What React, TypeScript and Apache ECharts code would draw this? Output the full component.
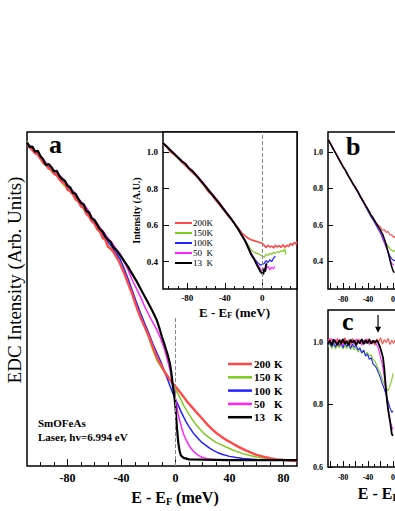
import React, { useEffect, useRef } from "react";
import * as echarts from "echarts";

const SERIF = '"Liberation Serif", "Times New Roman", serif';

// ---- labels / ticks ----
const mainTemps = ["200", "150", "100", "50", "13"];
const insetTemps = ["200", "150", "100", "50", "13"];
const colors = ["#ff4848", "#7fcc20", "#2222ff", "#ff22ff", "#000000"];

const mainXTicks = [-100, -90, -80, -70, -60, -50, -40, -30, -20, -10, 0, 10, 20, 30, 40, 50, 60, 70, 80];
const mainXLabels = [-80, -40, 0, 40, 80];
const insetXTicks = [-100, -90, -80, -70, -60, -50, -40, -30, -20, -10, 0, 10, 20, 30];
const insetXLabels = [-80, -40, 0];
const insetYLabels = [0.4, 0.6, 0.8, 1.0];
const bcXTicks = [-100, -90, -80, -70, -60, -50, -40, -30, -20, -10, 0, 10, 20, 30, 40, 50, 60, 70, 80, 90, 100, 110, 120, 130];
const bcXMajor = [-100, -80, -60, -40, -20, 0, 20, 40, 60, 80, 100, 120];
const bcXLabels = [-80, -40, 0, 40, 80, 120];
const bYLabels = [0.4, 0.6, 0.8, 1.0];
const cYLabels = [0.6, 0.8, 1.0];
const arrowE = -24;
const arrowTop = 1.087;
const arrowBottom = 1.03;

// ---- panel a, main EDCs ----
const mainBlack = [[-110,1.065],[-108,1.05],[-106,1.052],[-104,1.035],[-102,1.038],[-100,1.02],[-98,1.01],[-96,0.99],[-94,0.995],[-92,0.985],[-90,0.97],[-88,0.972],[-86,0.955],[-84,0.945],[-82,0.94],[-80,0.922],[-78,0.918],[-76,0.9],[-74,0.896],[-72,0.88],[-70,0.866],[-68,0.862],[-66,0.84],[-64,0.836],[-62,0.815],[-60,0.81],[-58,0.795],[-56,0.78],[-54,0.772],[-52,0.756],[-50,0.745],[-48,0.738],[-46,0.72],[-44,0.712],[-42,0.7],[-40,0.688],[-38,0.675],[-35,0.655],[-32,0.632],[-29,0.61],[-26,0.585],[-23,0.56],[-20,0.535],[-17,0.51],[-14,0.482],[-12,0.455],[-10,0.425],[-8,0.398],[-6,0.37],[-4,0.335],[-3,0.305],[-2,0.265],[-1,0.235],[0,0.195],[1,0.13],[2,0.08],[3,0.05],[4,0.035],[6,0.027],[10,0.022],[20,0.021],[40,0.02],[60,0.02],[90,0.02]];
const mainRed = [[-110,1.058],[-108,1.05],[-106,1.04],[-104,1.03],[-102,1.025],[-100,1.012],[-98,0.998],[-96,0.992],[-94,0.98],[-92,0.976],[-90,0.962],[-88,0.958],[-86,0.944],[-84,0.935],[-82,0.93],[-80,0.91],[-78,0.905],[-76,0.895],[-74,0.878],[-72,0.872],[-70,0.855],[-68,0.85],[-66,0.83],[-64,0.822],[-62,0.806],[-60,0.798],[-58,0.78],[-56,0.772],[-54,0.752],[-52,0.745],[-50,0.722],[-48,0.716],[-46,0.705],[-44,0.69],[-42,0.676],[-40,0.655],[-38,0.635],[-35,0.6],[-32,0.565],[-29,0.525],[-26,0.49],[-23,0.46],[-20,0.43],[-17,0.395],[-14,0.36],[-11,0.335],[-8,0.31],[-5,0.29],[-2,0.272],[0,0.262],[3,0.245],[6,0.228],[9,0.21],[12,0.195],[15,0.18],[18,0.165],[21,0.15],[24,0.135],[27,0.122],[30,0.11],[34,0.097],[38,0.085],[42,0.075],[46,0.065],[50,0.056],[55,0.046],[60,0.037],[65,0.031],[70,0.026],[75,0.022],[80,0.02],[85,0.018],[90,0.017]];
const mainGreen = [[-110,1.07],[-107,1.045],[-104,1.032],[-101,1.022],[-98,1.004],[-95,0.988],[-92,0.97],[-89,0.962],[-86,0.948],[-83,0.926],[-80,0.916],[-77,0.897],[-74,0.886],[-71,0.866],[-68,0.845],[-65,0.83],[-62,0.81],[-59,0.79],[-56,0.77],[-53,0.752],[-50,0.728],[-47,0.715],[-44,0.695],[-41,0.672],[-38,0.64],[-35,0.605],[-32,0.57],[-29,0.532],[-26,0.495],[-23,0.46],[-20,0.425],[-17,0.385],[-14,0.35],[-11,0.328],[-8,0.308],[-5,0.288],[-2,0.268],[0,0.252],[3,0.228],[6,0.2],[9,0.178],[12,0.156],[15,0.138],[18,0.122],[21,0.108],[24,0.097],[27,0.087],[30,0.078],[34,0.07],[38,0.062],[42,0.054],[46,0.047],[50,0.041],[55,0.035],[60,0.03],[65,0.026],[70,0.023],[80,0.021],[90,0.02]];
const mainBlue = [[-110,1.062],[-107,1.052],[-104,1.03],[-101,1.025],[-98,1.002],[-95,0.992],[-92,0.978],[-89,0.96],[-86,0.952],[-83,0.935],[-80,0.92],[-77,0.908],[-74,0.89],[-71,0.868],[-68,0.855],[-65,0.834],[-62,0.812],[-59,0.795],[-56,0.775],[-53,0.758],[-50,0.738],[-47,0.722],[-44,0.7],[-41,0.682],[-38,0.65],[-35,0.615],[-32,0.578],[-29,0.54],[-26,0.505],[-23,0.472],[-20,0.44],[-17,0.405],[-14,0.375],[-11,0.345],[-8,0.31],[-5,0.275],[-2,0.24],[0,0.22],[2,0.2],[4,0.18],[6,0.162],[8,0.145],[10,0.13],[13,0.11],[16,0.094],[19,0.08],[22,0.07],[25,0.06],[28,0.052],[31,0.045],[35,0.038],[40,0.032],[45,0.028],[50,0.025],[60,0.022],[75,0.021],[90,0.02]];
const mainMagenta = [[-110,1.064],[-107,1.05],[-104,1.038],[-101,1.026],[-98,1.01],[-95,0.994],[-92,0.984],[-89,0.97],[-86,0.958],[-83,0.944],[-80,0.928],[-77,0.91],[-74,0.898],[-71,0.876],[-68,0.862],[-65,0.845],[-62,0.82],[-59,0.806],[-56,0.786],[-53,0.77],[-50,0.75],[-47,0.735],[-44,0.715],[-41,0.7],[-38,0.672],[-35,0.645],[-32,0.612],[-29,0.585],[-26,0.558],[-23,0.527],[-20,0.5],[-17,0.475],[-14,0.45],[-11,0.42],[-8,0.382],[-6,0.35],[-4,0.315],[-2,0.27],[0,0.222],[2,0.17],[4,0.135],[6,0.105],[8,0.085],[10,0.068],[13,0.05],[16,0.038],[20,0.028],[25,0.023],[30,0.021],[50,0.02],[90,0.02]];

// ---- panel a, inset ----
const insetBlack = [[-106,1.05],[-102,1.03],[-98,1.01],[-94,0.99],[-90,0.97],[-86,0.95],[-82,0.935],[-78,0.91],[-74,0.893],[-70,0.87],[-66,0.845],[-62,0.82],[-58,0.795],[-54,0.77],[-50,0.745],[-46,0.72],[-42,0.692],[-38,0.665],[-34,0.64],[-30,0.61],[-26,0.58],[-22,0.545],[-18,0.51],[-15,0.475],[-12,0.44],[-9,0.415],[-6,0.385],[-4,0.365],[-2,0.345],[0,0.335],[1,0.33],[2,0.36],[3,0.345],[4,0.385],[5,0.39]];
const insetRed = [[-106,1.045],[-102,1.028],[-98,1.0],[-94,0.985],[-90,0.968],[-86,0.945],[-82,0.925],[-78,0.905],[-74,0.885],[-70,0.865],[-66,0.84],[-62,0.815],[-58,0.785],[-54,0.765],[-50,0.738],[-46,0.712],[-42,0.688],[-38,0.66],[-34,0.635],[-30,0.61],[-26,0.585],[-22,0.558],[-18,0.54],[-15,0.528],[-12,0.52],[-9,0.515],[-6,0.51],[-3,0.505],[0,0.5],[2,0.49],[4,0.478],[6,0.49],[8,0.48],[10,0.485],[12,0.475],[14,0.49],[16,0.48],[18,0.488],[20,0.478],[22,0.492],[24,0.478],[26,0.49],[28,0.482],[30,0.5],[32,0.488],[34,0.505],[36,0.495],[37,0.51]];
const insetGreen = [[-106,1.048],[-102,1.025],[-98,1.005],[-94,0.988],[-90,0.965],[-86,0.948],[-82,0.928],[-78,0.908],[-74,0.888],[-70,0.866],[-66,0.842],[-62,0.818],[-58,0.79],[-54,0.768],[-50,0.742],[-46,0.716],[-42,0.69],[-38,0.662],[-34,0.636],[-30,0.606],[-26,0.575],[-22,0.545],[-18,0.515],[-15,0.49],[-12,0.465],[-9,0.452],[-6,0.445],[-3,0.44],[0,0.43],[2,0.425],[4,0.44],[6,0.435],[8,0.445],[10,0.44],[12,0.452],[14,0.445],[16,0.455],[18,0.45],[20,0.46],[22,0.455],[24,0.47],[25,0.44]];
const insetBlue = [[-106,1.046],[-102,1.032],[-98,1.008],[-94,0.992],[-90,0.968],[-86,0.952],[-82,0.93],[-78,0.912],[-74,0.89],[-70,0.872],[-66,0.846],[-62,0.822],[-58,0.792],[-54,0.772],[-50,0.744],[-46,0.722],[-42,0.694],[-38,0.668],[-34,0.638],[-30,0.612],[-26,0.578],[-22,0.548],[-18,0.51],[-15,0.475],[-12,0.445],[-9,0.42],[-6,0.4],[-4,0.39],[-2,0.38],[0,0.385],[2,0.39],[4,0.405],[6,0.395],[8,0.41],[10,0.4],[12,0.42],[14,0.43]];
const insetMagenta = [[-106,1.052],[-102,1.034],[-98,1.012],[-94,0.994],[-90,0.972],[-86,0.954],[-82,0.938],[-78,0.914],[-74,0.896],[-70,0.874],[-66,0.85],[-62,0.826],[-58,0.798],[-54,0.775],[-50,0.75],[-46,0.725],[-42,0.698],[-38,0.67],[-34,0.642],[-30,0.614],[-26,0.582],[-22,0.55],[-18,0.515],[-15,0.48],[-12,0.45],[-9,0.42],[-6,0.39],[-4,0.375],[-2,0.36],[0,0.35],[2,0.365],[4,0.36],[6,0.375],[8,0.355],[10,0.37],[12,0.36],[13,0.375]];

// ---- panel b ----
const bBlack = [[-104,1.07],[-100,1.045],[-96,1.02],[-92,0.995],[-88,0.97],[-84,0.945],[-80,0.92],[-76,0.9],[-72,0.872],[-68,0.85],[-64,0.825],[-60,0.805],[-56,0.782],[-52,0.755],[-48,0.732],[-44,0.708],[-40,0.685],[-36,0.66],[-32,0.64],[-28,0.615],[-24,0.595],[-20,0.572],[-16,0.545],[-13,0.515],[-10,0.48],[-7,0.44],[-4,0.395],[-2,0.37],[0,0.35],[2,0.34]];
const bRed = [[-104,1.075],[-100,1.05],[-96,1.018],[-92,0.998],[-88,0.968],[-84,0.948],[-80,0.918],[-76,0.898],[-72,0.875],[-68,0.848],[-64,0.828],[-60,0.8],[-56,0.785],[-52,0.752],[-48,0.735],[-44,0.705],[-40,0.688],[-36,0.658],[-32,0.642],[-28,0.618],[-24,0.6],[-20,0.59],[-17,0.572],[-14,0.575],[-11,0.56],[-8,0.565],[-5,0.548],[-2,0.545],[1,0.532],[4,0.54]];
const bGreen = [[-104,1.068],[-100,1.042],[-96,1.022],[-92,0.992],[-88,0.972],[-84,0.942],[-80,0.922],[-76,0.896],[-72,0.874],[-68,0.846],[-64,0.826],[-60,0.802],[-56,0.78],[-52,0.756],[-48,0.73],[-44,0.704],[-40,0.68],[-36,0.652],[-32,0.632],[-28,0.612],[-24,0.588],[-20,0.565],[-17,0.54],[-14,0.52],[-11,0.5],[-8,0.485],[-5,0.47],[-2,0.462],[1,0.455],[4,0.465]];
const bBlue = [[-104,1.066],[-100,1.046],[-96,1.016],[-92,0.996],[-88,0.966],[-84,0.946],[-80,0.918],[-76,0.898],[-72,0.87],[-68,0.848],[-64,0.822],[-60,0.8],[-56,0.776],[-52,0.752],[-48,0.728],[-44,0.7],[-40,0.676],[-36,0.65],[-32,0.628],[-28,0.605],[-24,0.58],[-20,0.555],[-17,0.53],[-14,0.505],[-11,0.48],[-8,0.455],[-5,0.43],[-2,0.415],[1,0.405],[4,0.41]];
const bMagenta = [[-104,1.072],[-100,1.048],[-96,1.024],[-92,0.998],[-88,0.974],[-84,0.95],[-80,0.924],[-76,0.902],[-72,0.876],[-68,0.852],[-64,0.828],[-60,0.806],[-56,0.784],[-52,0.758],[-48,0.734],[-44,0.71],[-40,0.684],[-36,0.658],[-32,0.636],[-28,0.612],[-24,0.59],[-20,0.565],[-17,0.54],[-14,0.51],[-11,0.48],[-8,0.45],[-5,0.415],[-2,0.39],[1,0.38]];

// ---- panel c ----
const cRed = [[-104,1.0],[-101,1.012],[-98,0.992],[-95,1.006],[-92,0.998],[-89,1.012],[-86,0.99],[-83,1.008],[-80,0.996],[-77,1.014],[-74,0.994],[-71,1.006],[-68,0.99],[-65,1.012],[-62,1.0],[-59,0.99],[-56,1.01],[-53,0.996],[-50,1.008],[-47,0.992],[-44,1.01],[-41,0.998],[-38,1.012],[-35,0.994],[-32,1.004],[-29,0.99],[-26,1.01],[-23,1.0],[-20,1.014],[-17,0.994],[-14,1.008],[-11,0.998],[-8,1.012],[-5,0.992],[-2,1.006],[1,0.996],[4,1.01],[7,1.0]];
const cBlack = [[-104,0.995],[-101,1.005],[-98,0.99],[-95,1.008],[-92,1.0],[-89,0.99],[-86,1.006],[-83,0.996],[-80,1.01],[-77,0.994],[-74,1.004],[-71,0.99],[-68,1.008],[-65,0.998],[-62,1.006],[-59,0.99],[-56,1.004],[-53,0.996],[-50,1.01],[-47,0.994],[-44,1.006],[-41,0.996],[-38,1.008],[-35,0.995],[-32,1.005],[-29,0.998],[-26,1.006],[-24,1.0],[-21,0.985],[-18,0.965],[-16,0.95],[-14,0.915],[-12,0.865],[-10,0.82],[-8,0.785],[-6,0.76],[-4,0.735],[-2,0.705],[0,0.7]];
const cMagenta = [[-104,1.01],[-101,0.995],[-98,1.012],[-95,0.998],[-92,1.008],[-89,0.99],[-86,1.01],[-83,1.0],[-80,0.99],[-77,1.012],[-74,0.996],[-71,1.008],[-68,0.994],[-65,1.006],[-62,0.992],[-59,1.01],[-56,0.998],[-53,1.008],[-50,0.99],[-47,1.006],[-44,0.995],[-41,1.01],[-38,0.992],[-35,1.004],[-32,0.996],[-29,1.006],[-26,0.99],[-24,0.985],[-21,0.96],[-18,0.935],[-16,0.915],[-13,0.87],[-10,0.82],[-8,0.785],[-5,0.75],[-2,0.73],[0,0.72]];
const cBlue = [[-104,0.99],[-101,1.0],[-98,0.985],[-95,0.998],[-92,0.984],[-89,1.002],[-86,0.988],[-83,0.996],[-80,0.982],[-77,1.0],[-74,0.986],[-71,0.996],[-68,0.98],[-65,0.994],[-62,0.984],[-59,0.99],[-56,0.975],[-53,0.982],[-50,0.965],[-47,0.975],[-44,0.955],[-41,0.962],[-38,0.945],[-35,0.95],[-32,0.93],[-29,0.925],[-26,0.915],[-23,0.9],[-20,0.885],[-17,0.865],[-14,0.85],[-11,0.83],[-8,0.81],[-5,0.79],[-2,0.775],[0,0.78]];
const cGreen = [[-104,0.985],[-101,0.995],[-98,0.98],[-95,0.992],[-92,0.978],[-89,0.99],[-86,0.982],[-83,0.994],[-80,0.978],[-77,0.99],[-74,0.98],[-71,0.992],[-68,0.976],[-65,0.988],[-62,0.975],[-59,0.985],[-56,0.968],[-53,0.978],[-50,0.965],[-47,0.972],[-44,0.96],[-41,0.968],[-38,0.955],[-35,0.96],[-32,0.945],[-29,0.94],[-26,0.925],[-23,0.91],[-20,0.9],[-17,0.88],[-14,0.865],[-11,0.85],[-8,0.845],[-5,0.86],[-2,0.88],[0,0.9]];

const tickStyle = { show: true, inside: true, length: 4, lineStyle: { color: "#000", width: 1 } };
const noLine = { show: false, onZero: false };
const boldLabel = (size: number, margin: number) => ({
  show: true, fontFamily: SERIF, fontWeight: "bold", fontSize: size, color: "#000", margin,
});
const subName = (size: number, sub: number, shift: number, padLeft: number) => ({
  nameTextStyle: {
    padding: [0, 0, 0, padLeft],
    rich: {
      t: { fontFamily: SERIF, fontWeight: "bold", fontSize: size, color: "#000" },
      s: { fontFamily: SERIF, fontWeight: "bold", fontSize: sub, color: "#000", padding: [shift, 0, 0, 0] },
    },
  },
});
// extra tick-only axis (longer ticks at major values)
const majorAxis = (gridIndex: number, min: number, max: number, values: number[], length: number) => ({
  gridIndex, type: "value", min, max, position: "bottom",
  axisLine: noLine, splitLine: { show: false }, axisLabel: { show: false },
  axisTick: { ...tickStyle, length, customValues: values },
});

function mk(name: string, data: number[][], color: string, width: number, idx: number, extra: any = {}) {
  return {
    type: "line", name, data, xAxisIndex: idx, yAxisIndex: idx,
    showSymbol: false, symbol: "none", silent: true,
    lineStyle: { color, width }, itemStyle: { color }, ...extra,
  };
}

export default function App() {
  const ref = useRef<HTMLDivElement>(null);
  useEffect(() => {
    if (!ref.current) return;
    const chart = echarts.init(ref.current, null, { renderer: "svg" });
    const frame = { show: true, borderColor: "#000", borderWidth: 1.5 };
    const dash = { color: "#888", type: "dashed", width: 1 };

    const series: any[] = [
      mk("150 K", mainGreen, colors[1], 1.5, 0),
      mk("100 K", mainBlue, colors[2], 1.5, 0),
      mk("50 K", mainMagenta, colors[3], 1.5, 0),
      mk("200 K", mainRed, colors[0], 2.4, 0),
      mk("13 K", mainBlack, colors[4], 2.2, 0, {
        markLine: { silent: true, symbol: "none", label: { show: false }, lineStyle: dash,
          data: [[{ coord: [0, 0] }, { coord: [0, 0.49] }]] },
      }),
      mk("150K", insetGreen, colors[1], 1.2, 1),
      mk("100K", insetBlue, colors[2], 1.2, 1),
      mk("50K", insetMagenta, colors[3], 1.2, 1),
      mk("200K", insetRed, colors[0], 1.6, 1),
      mk("13K", insetBlack, colors[4], 2, 1, {
        markLine: { silent: true, symbol: "none", label: { show: false }, lineStyle: dash, data: [{ xAxis: 0 }] },
      }),
      mk("b150", bGreen, colors[1], 1.1, 2),
      mk("b100", bBlue, colors[2], 1.1, 2),
      mk("b50", bMagenta, colors[3], 1.1, 2),
      mk("b200", bRed, colors[0], 1.1, 2),
      mk("b13", bBlack, colors[4], 1.5, 2),
      mk("c150", cGreen, colors[1], 1.1, 3),
      mk("c100", cBlue, colors[2], 1.1, 3),
      mk("c50", cMagenta, colors[3], 1.1, 3),
      mk("c200", cRed, colors[0], 1.1, 3),
      mk("c13", cBlack, colors[4], 1.8, 3),
    ];

    chart.setOption({
      animation: false,
      textStyle: { fontFamily: SERIF },
      grid: [
        { left: 27, top: 132, width: 270, height: 335, ...frame },
        { left: 163, top: 132, width: 134, height: 157, ...frame, backgroundColor: "#fff" },
        { left: 328, top: 132, width: 147, height: 157, ...frame },
        { left: 328, top: 310, width: 147, height: 157, ...frame },
      ],
      xAxis: [
        {
          gridIndex: 0, type: "value", min: -110, max: 90, position: "bottom",
          axisLine: noLine, splitLine: { show: false },
          axisTick: { ...tickStyle, length: 4, customValues: mainXTicks },
          axisLabel: { ...boldLabel(12, 6), customValues: mainXLabels },
          name: "{t|E - E}{s|F}{t| (meV)}", nameLocation: "middle", nameGap: 15,
          ...subName(16, 10, 8, 26),
        },
        {
          gridIndex: 1, type: "value", min: -106, max: 37, position: "bottom",
          axisLine: noLine, splitLine: { show: false },
          axisTick: { ...tickStyle, length: 3, customValues: insetXTicks },
          axisLabel: { ...boldLabel(9, 4), customValues: insetXLabels },
          name: "{t|E - E}{s|F}{t| (meV)}", nameLocation: "middle", nameGap: 16,
          ...subName(13, 8, 6, 9),
        },
        {
          gridIndex: 2, type: "value", min: -104, max: 131, position: "bottom",
          axisLine: noLine, splitLine: { show: false },
          axisTick: { ...tickStyle, length: 3, customValues: bcXTicks },
          axisLabel: { ...boldLabel(8, 6), customValues: bcXLabels },
        },
        {
          gridIndex: 3, type: "value", min: -104, max: 131, position: "bottom",
          axisLine: noLine, splitLine: { show: false },
          axisTick: { ...tickStyle, length: 3, customValues: bcXTicks },
          axisLabel: { ...boldLabel(8, 6), customValues: bcXLabels },
          name: "{t|E - E}{s|F}{t| (meV)}", nameLocation: "middle", nameGap: 17,
          ...subName(16, 10, 8, 0),
        },
        majorAxis(0, -110, 90, mainXLabels, 7),
        majorAxis(1, -106, 37, insetXLabels, 6),
        majorAxis(2, -104, 131, bcXMajor, 6),
        majorAxis(3, -104, 131, bcXMajor, 6),
      ],
      yAxis: [
        {
          gridIndex: 0, type: "value", min: 0, max: 1.1,
          axisLine: noLine, axisTick: { show: false }, axisLabel: { show: false }, splitLine: { show: false },
        },
        {
          gridIndex: 1, type: "value", min: 0.25, max: 1.11,
          axisLine: noLine, splitLine: { show: false },
          axisTick: { ...tickStyle, length: 6, customValues: insetYLabels },
          axisLabel: { ...boldLabel(9, 5), customValues: insetYLabels, formatter: (v: number) => v.toFixed(1) },
          name: "Intensity (A.U.)", nameLocation: "middle", nameGap: 22,
          nameTextStyle: { fontFamily: SERIF, fontWeight: "bold", fontSize: 10, color: "#000" },
        },
        {
          gridIndex: 2, type: "value", min: 0.25, max: 1.11,
          axisLine: noLine, splitLine: { show: false },
          axisTick: { ...tickStyle, length: 5, customValues: bYLabels },
          axisLabel: { ...boldLabel(8, 5), customValues: bYLabels, formatter: (v: number) => v.toFixed(1) },
        },
        {
          gridIndex: 3, type: "value", min: 0.6, max: 1.103,
          axisLine: noLine, splitLine: { show: false },
          axisTick: { ...tickStyle, length: 5, customValues: cYLabels },
          axisLabel: { ...boldLabel(8, 5), customValues: cYLabels, formatter: (v: number) => v.toFixed(1) },
        },
      ],
      series,
    });

    const graphic: any[] = [];
    const letter = (t: string, x: number, y: number) => ({
      type: "text", x, y, z: 50,
      style: { text: t, fontFamily: SERIF, fontWeight: "bold", fontSize: 26, fill: "#000", align: "left", verticalAlign: "middle" },
    });
    graphic.push(letter("a", 49, 144), letter("b", 346, 146), letter("c", 342, 321));
    graphic.push({
      type: "text", x: 14, y: 280, rotation: Math.PI / 2, z: 50,
      style: { text: "EDC Intensity (Arb. Units)", fontFamily: SERIF, fontSize: 19, fill: "#000", align: "center", verticalAlign: "middle" },
    });
    graphic.push({
      type: "text", x: 38, y: 423, z: 50,
      style: { text: "SmOFeAs", fontFamily: SERIF, fontWeight: "bold", fontSize: 11, fill: "#000", verticalAlign: "middle" },
    });
    graphic.push({
      type: "text", x: 38, y: 437, z: 50,
      style: { text: "Laser, hv=6.994 eV", fontFamily: SERIF, fontWeight: "bold", fontSize: 11, fill: "#000", verticalAlign: "middle" },
    });
    mainTemps.forEach((t, i) => {
      const y = 364 + i * 13.3;
      graphic.push({ type: "line", z: 50, shape: { x1: 228, y1: y, x2: 252, y2: y }, style: { stroke: colors[i], lineWidth: 2.5 } });
      graphic.push({
        type: "text", x: 254, y, z: 50,
        style: {
          text: `{n|${t}}{k|K}`, verticalAlign: "middle",
          rich: {
            n: { width: 20, fontFamily: SERIF, fontWeight: "bold", fontSize: 11, fill: "#000" },
            k: { fontFamily: SERIF, fontWeight: "bold", fontSize: 11, fill: "#000" },
          },
        },
      });
    });
    insetTemps.forEach((t, i) => {
      const y = 223 + i * 10;
      graphic.push({ type: "line", z: 50, shape: { x1: 175, y1: y, x2: 192, y2: y }, style: { stroke: colors[i], lineWidth: 2 } });
      graphic.push({
        type: "text", x: 193, y, z: 50,
        style: {
          text: `{n|${t}}{k|K}`, verticalAlign: "middle",
          rich: {
            n: { width: 13.5, fontFamily: SERIF, fontSize: 9, fill: "#000" },
            k: { fontFamily: SERIF, fontSize: 9, fill: "#000" },
          },
        },
      });
    });
    const p1 = chart.convertToPixel({ gridIndex: 3 } as any, [arrowE, arrowTop]) as number[];
    const p2 = chart.convertToPixel({ gridIndex: 3 } as any, [arrowE, arrowBottom]) as number[];
    if (p1 && p2) {
      graphic.push({ type: "line", z: 50, shape: { x1: p1[0], y1: p1[1], x2: p2[0], y2: p2[1] - 5 }, style: { stroke: "#000", lineWidth: 1.2 } });
      graphic.push({ type: "polygon", z: 50, shape: { points: [[p2[0] - 3, p2[1] - 6], [p2[0] + 3, p2[1] - 6], [p2[0], p2[1]]] }, style: { fill: "#000" } });
    }
    chart.setOption({ graphic });

    return () => chart.dispose();
  }, []);
  return (
    <div style={{ position: "absolute", left: 0, top: 0, width: 395, height: 511, overflow: "hidden" }}>
      <div ref={ref} style={{ width: 490, height: 511 }} />
    </div>
  );
}
